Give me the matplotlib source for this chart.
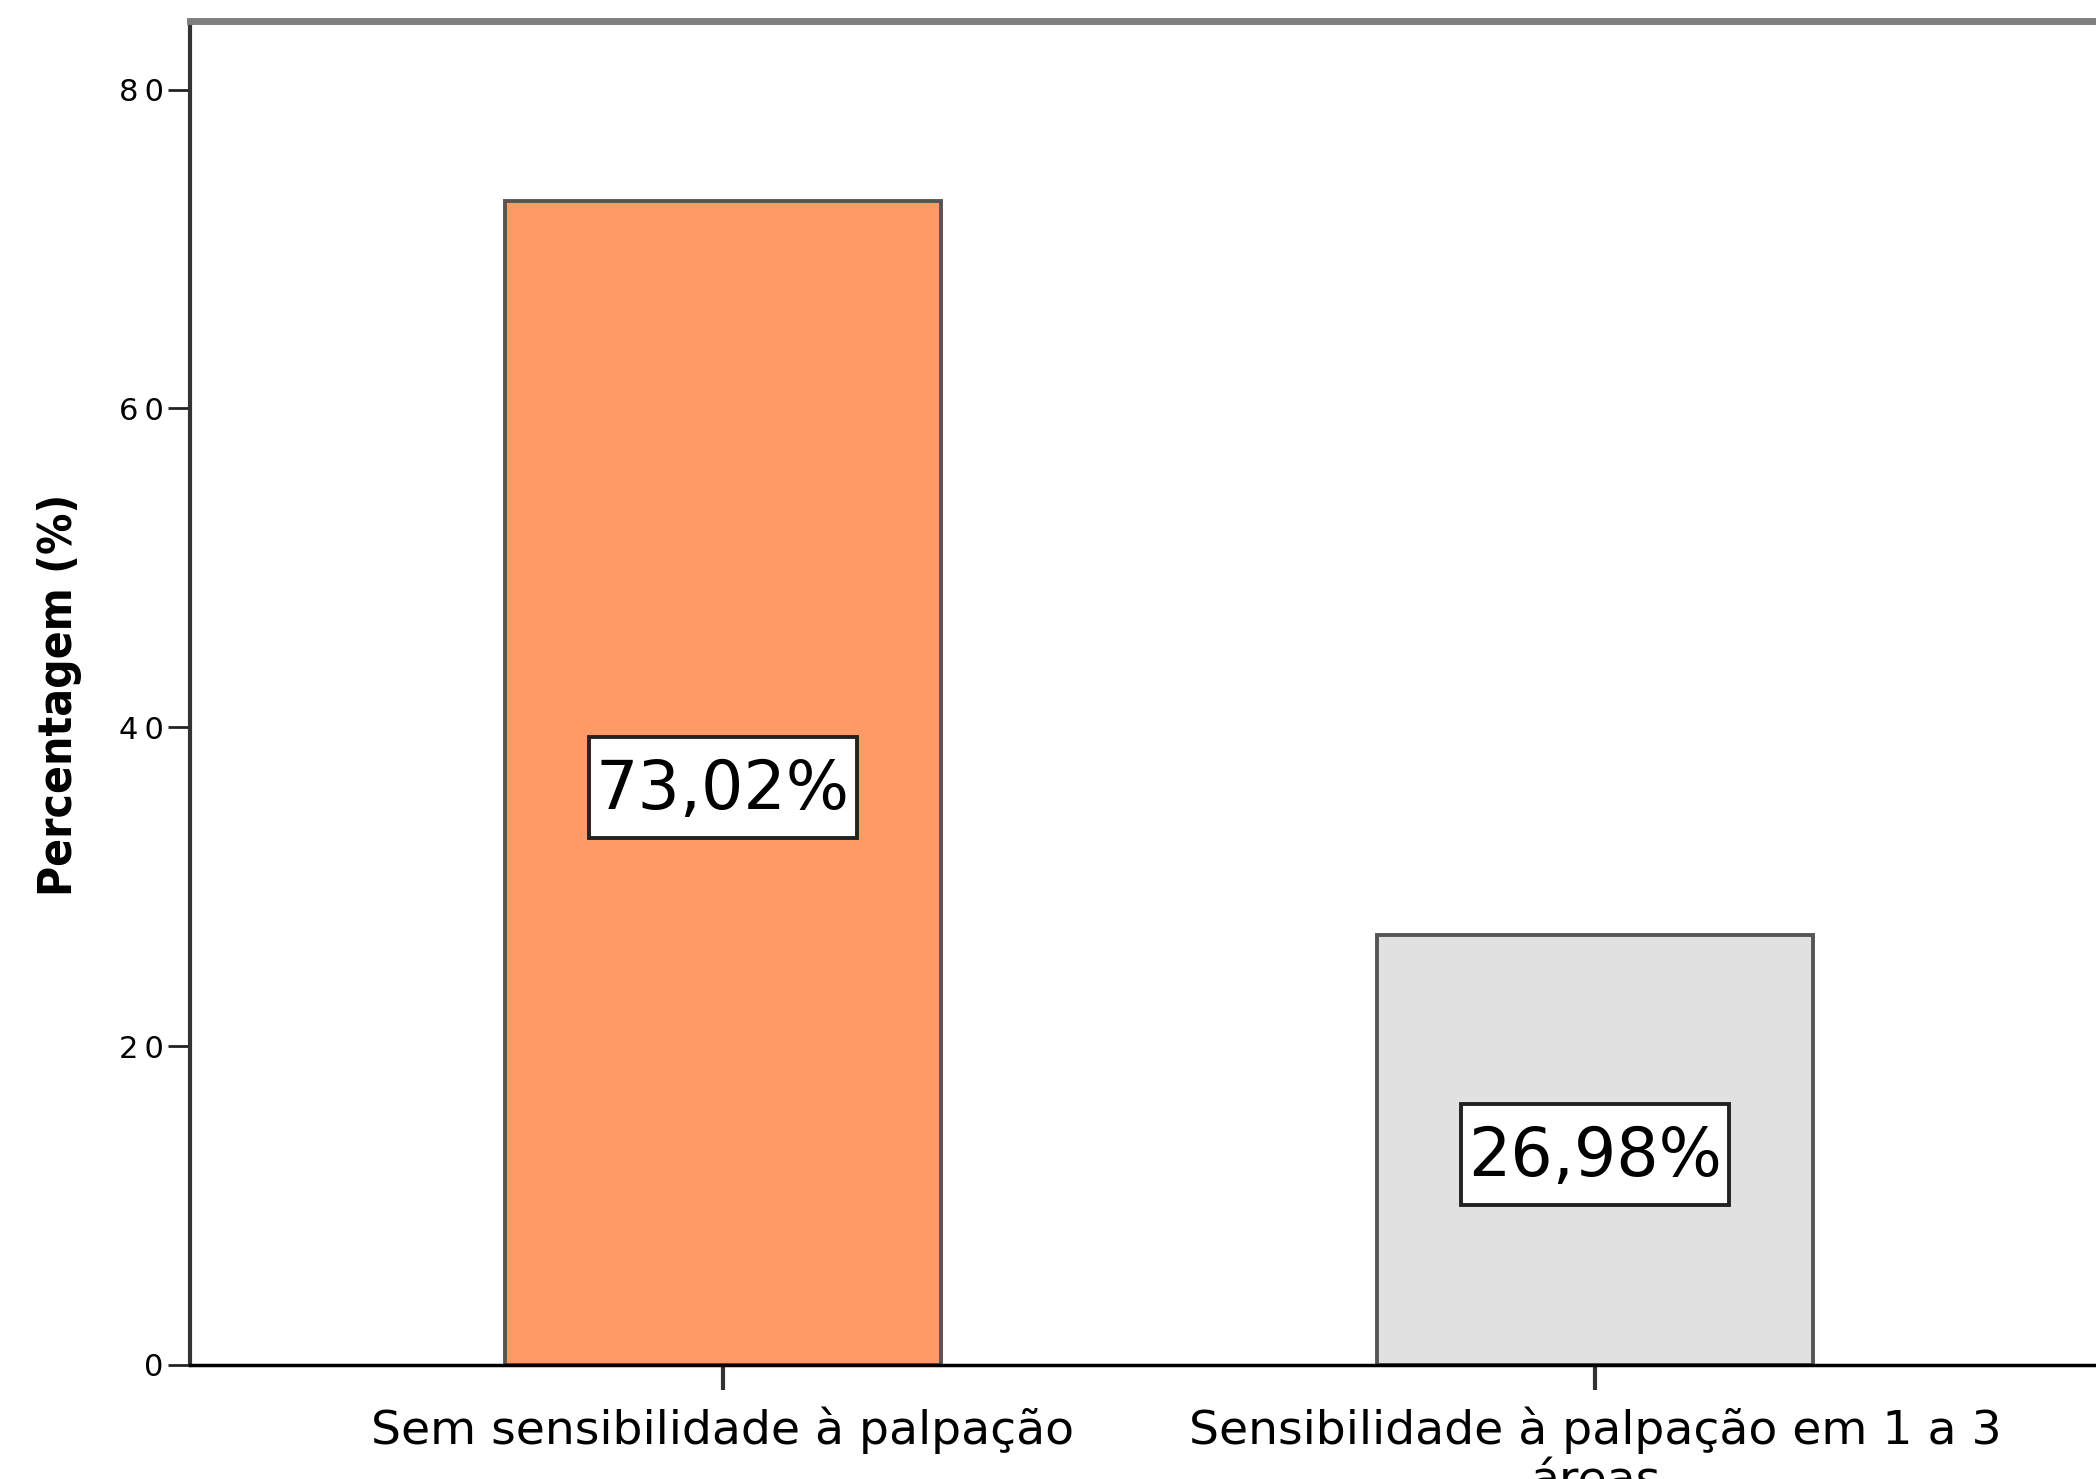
import matplotlib
matplotlib.use("Agg")
import matplotlib.pyplot as plt
from matplotlib.patches import Rectangle
from matplotlib.transforms import ScaledTranslation

categories = ["Sem sensibilidade à palpação", "Sensibilidade à palpação em 1 a 3\náreas"]
values = [73.02, 26.98]
value_labels = ["73,02%", "26,98%"]
yticks = [0, 20, 40, 60, 80]
colors = ["#FF9966", "#E1E1E1"]

W, H = 2096, 1479
fig = plt.figure(figsize=(W / 100, H / 100), dpi=100)
ax = fig.add_axes([190 / W, (H - 1365) / H, (2128 - 190) / W, (1365 - 21) / H])

x = list(range(len(categories)))
ax.bar(x, values, width=0.5, color=colors, edgecolor="#555555", linewidth=2.8, zorder=2)
bw, bh = 2.68, 1.01  # label box size in inches
for xi, v, lab in zip(x, values, value_labels):
    tr = fig.dpi_scale_trans + ScaledTranslation(xi, v / 2, ax.transData)
    ax.add_patch(Rectangle((-bw / 2, -bh / 2 - 0.045), bw, bh, transform=tr, facecolor="white",
                           edgecolor="#222222", linewidth=2.8, zorder=3))
    ax.text(xi, v / 2, lab, ha="center", va="center_baseline", fontsize=48, color="black", zorder=4)

ax.set_xlim(-0.611, 1.611)
ax.set_ylim(0, 84.3)
ax.set_yticks(yticks)
ax.set_yticklabels(["\u2009".join(str(t)) for t in yticks], fontsize=22)
ax.set_xticks(x)
ax.set_xticklabels(categories, fontsize=34, linespacing=1.15)
ax.tick_params(axis="y", length=16, width=2, pad=3, color="#222222")
ax.tick_params(axis="x", length=18, width=3, pad=12, color="#333333")

ax.spines["right"].set_visible(False)
ax.spines["top"].set_color("#808080")
ax.spines["top"].set_linewidth(5)
ax.spines["left"].set_color("#333333")
ax.spines["left"].set_linewidth(3)
ax.spines["bottom"].set_color("black")
ax.spines["bottom"].set_linewidth(2.5)

fig.text(60 / W, 1 - 695 / H, "Percentagem (%)", rotation=90, ha="center", va="center",
         fontsize=33, fontweight="bold", fontstretch="condensed")

fig.savefig("out.png", dpi=100)
